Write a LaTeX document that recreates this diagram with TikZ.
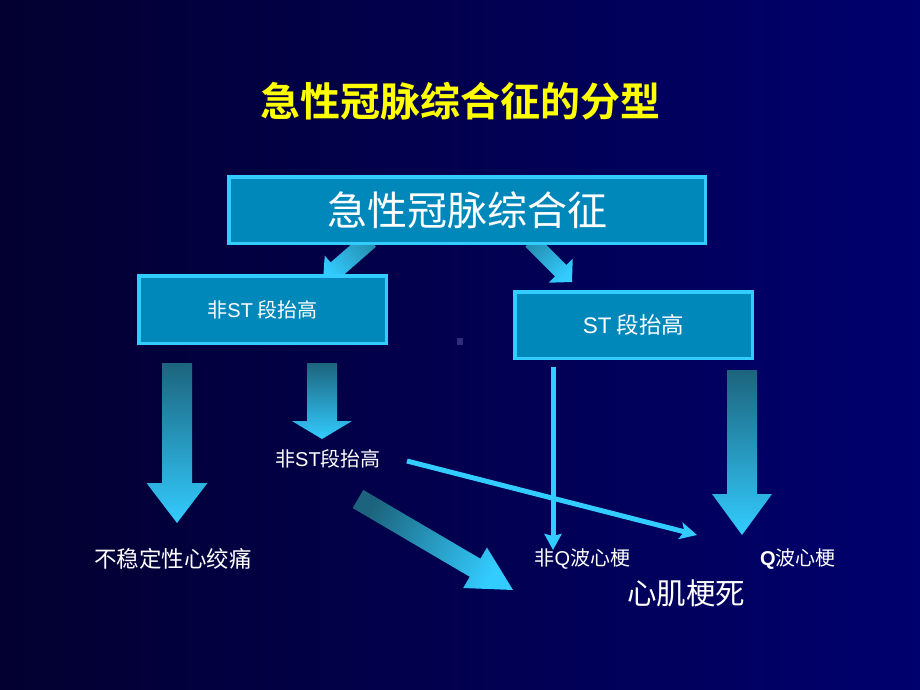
\documentclass[tikz,border=0pt]{standalone}
\usepackage{fontspec}
\setmainfont{Noto Sans CJK SC}[BoldFont={Noto Sans CJK SC Bold}]
\newfontfamily\lat{Liberation Sans}
\usetikzlibrary{calc,arrows.meta}
\definecolor{bgL}{RGB}{3,0,48}
\definecolor{bgR}{RGB}{0,0,110}
\definecolor{boxfill}{RGB}{0,136,187}
\definecolor{boxline}{RGB}{51,204,255}
\definecolor{cyanA}{RGB}{51,204,255}
\definecolor{tealD}{RGB}{28,100,125}
\definecolor{titleY}{RGB}{255,255,0}
\definecolor{dotc}{RGB}{45,45,120}
% fat block arrow: #1 tail, #2 tip, #3 half shaft, #4 half head, #5 head length, #6 style
\newcommand{\fatarrow}[6]{%
  \coordinate (faC) at ($(#2)!#5!(#1)$);
  \path[#6] ($(#1)!#3!90:(#2)$) -- ($(faC)!#3!-90:(#1)$) -- ($(faC)!#4!-90:(#1)$)
    -- (#2) -- ($(faC)!#4!90:(#1)$) -- ($(faC)!#3!90:(#1)$) -- ($(#1)!#3!-90:(#2)$) -- cycle;
}
\begin{document}
\begin{tikzpicture}[x=1pt,y=-1pt,
  box/.style={draw=boxline, fill=boxfill, line width=3.5pt, inner sep=0pt, text=white},
  lbl/.style={text=white, inner sep=0pt},
  thinarrow/.style={draw=cyanA, line width=5pt},
  fatv/.style={top color=tealD, bottom color=cyanA},
  fatd/.style={top color=tealD!60!cyanA, bottom color=cyanA},
]
\useasboundingbox (0,0) rectangle (920,690);
\shade[left color=bgL, right color=bgR] (0,0) rectangle (920,690);

% title
\node[text=titleY, inner sep=0pt, font=\fontsize{40}{48}\selectfont\bfseries] (title) at (460,101) {急性冠脉综合征的分型};

% arrows from the top box (drawn under the boxes)
\coordinate (a1s) at (370,240); \coordinate (a1e) at (323,281);
\coordinate (a2s) at (531,241); \coordinate (a2e) at (572,282);
\fatarrow{a1s}{a1e}{9pt}{18pt}{18pt}{fatd, shading angle=-49}
\fatarrow{a2s}{a2e}{8pt}{17pt}{16pt}{fatd, shading angle=45}

% boxes
\node[box, minimum width=476.5pt, minimum height=66.5pt, font=\fontsize{40}{48}\selectfont] (acs) at (467,210) {急性冠脉综合征};
\node[box, minimum width=247.5pt, minimum height=67.5pt, font=\fontsize{20}{24}\selectfont] (nste) at (262.5,309.5) {非{\lat ST} 段抬高};
\node[box, minimum width=237.5pt, minimum height=66.5pt, font=\fontsize{22.5}{27}\selectfont] (ste) at (633.5,325) {{\lat ST} 段抬高};

% small dot
\fill[dotc] (457,338) rectangle (463,345);

% vertical fat arrows
\coordinate (vAs) at (177,363); \coordinate (vAe) at (177,523);
\coordinate (vBs) at (322,363); \coordinate (vBe) at (322,439);
\coordinate (vCs) at (742,370); \coordinate (vCe) at (742,535);
\fatarrow{vAs}{vAe}{15pt}{30.5pt}{40pt}{fatv}
\fatarrow{vBs}{vBe}{15pt}{30pt}{18pt}{fatv}
\fatarrow{vCs}{vCe}{15pt}{30pt}{41pt}{fatv}

% big diagonal arrow
\coordinate (dS) at (358,499); \coordinate (dE) at (513,590);
\fatarrow{dS}{dE}{10.5pt}{23.5pt}{44pt}{fatv, shading angle=60}

% thin arrows
\coordinate (t1s) at (553,367); \coordinate (t1e) at (553,550);
\coordinate (t2s) at (407,461); \coordinate (t2e) at (697,535);
\draw[thinarrow, -{Stealth[length=16pt,width=17pt,inset=2pt]}] (t1s) -- (t1e);
\draw[thinarrow, -{Stealth[length=17pt,width=17pt,inset=4pt]}] (t2s) -- (t2e);

% labels
\node[lbl, font=\fontsize{20}{24}\selectfont] (nst2) at (328,459) {非{\lat ST}段抬高};
\node[lbl, font=\fontsize{22.5}{27}\selectfont] (ua) at (173,559) {不稳定性心绞痛};
\node[lbl, font=\fontsize{20}{24}\selectfont] (nq) at (582.5,559) {非{\lat Q}波心梗};
\node[lbl, font=\fontsize{20}{24}\selectfont] (qw) at (798,559) {{\lat\bfseries Q}波心梗};
\node[lbl, font=\fontsize{29.5}{35}\selectfont] (mi) at (686,593) {心肌梗死};
\end{tikzpicture}
\end{document}
